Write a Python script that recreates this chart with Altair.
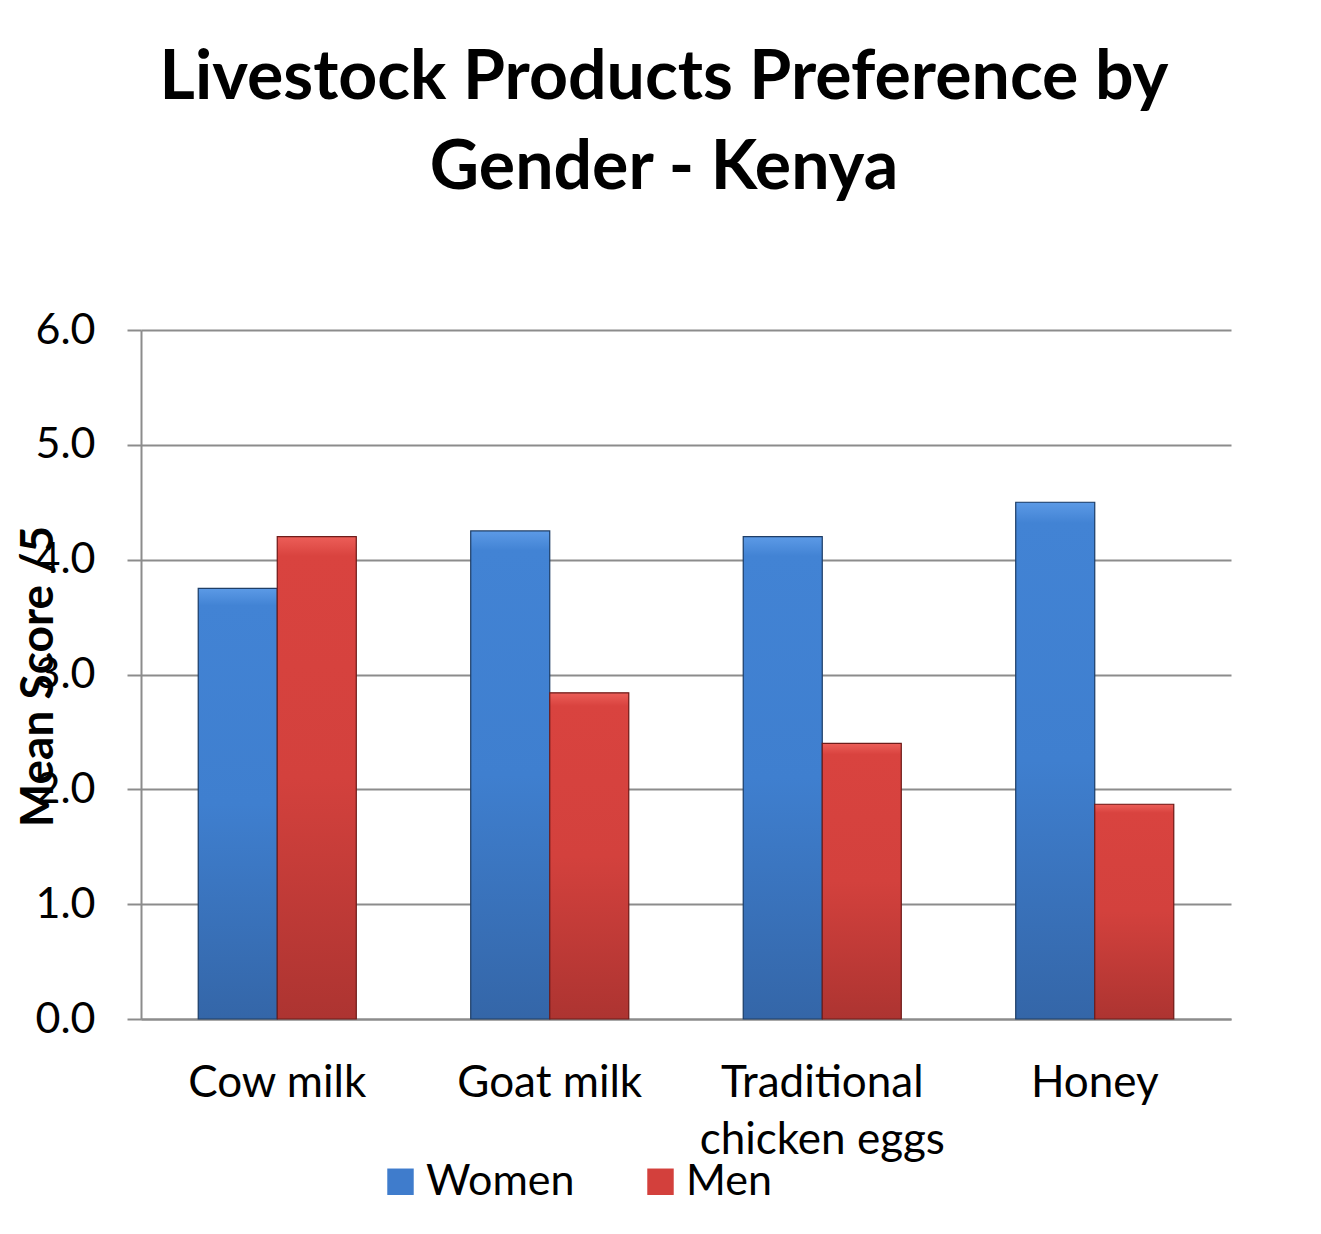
import altair as alt
import pandas as pd

categories = ["Cow milk", "Goat milk", "Traditional chicken eggs", "Honey"]
women = [3.75, 4.25, 4.2, 4.5]
men = [4.2, 2.84, 2.4, 1.87]
series = ["Women", "Men"]
y_ticks = [0, 1, 2, 3, 4, 5, 6]

rows = []
for c, w, m in zip(categories, women, men):
    rows.append({"category": c, "series": "Women", "value": w})
    rows.append({"category": c, "series": "Men", "value": m})
df = pd.DataFrame(rows)

FONT = "Lato"
GRID = "#8c8c8c"

x_enc = alt.X(
    "category:N",
    sort=categories,
    scale=alt.Scale(paddingInner=0.42, paddingOuter=0.21),
    axis=alt.Axis(
        title=None,
        labelAngle=0,
        labelFont=FONT,
        labelFontSize=44,
        labelColor="black",
        labelPadding=42,
        labelLimit=0,
        labelLineHeight=57,
        labelBaseline="top",
        labelExpr="datum.label == 'Traditional chicken eggs' ? ['Traditional', 'chicken eggs'] : datum.label",
        ticks=False,
        domain=True,
        domainColor=GRID,
        domainWidth=2,
    ),
)
xoff = alt.XOffset("series:N", sort=series, scale=alt.Scale(paddingInner=0, paddingOuter=0))
y_enc = alt.Y(
    "value:Q",
    scale=alt.Scale(domain=[0, 6], nice=False),
    axis=alt.Axis(
        title="Mean Score /5",
        titleFont=FONT,
        titleFontSize=46,
        titleFontWeight="bold",
        titleColor="black",
        titleAngle=-90,
        titleX=-89,
        titleY=346,
        titleAlign="center",
        titleBaseline="alphabetic",
        values=y_ticks,
        format=".1f",
        labelFont=FONT,
        labelFontSize=43,
        labelColor="black",
        labelPadding=32,
        tickSize=14,
        tickColor=GRID,
        tickWidth=2,
        grid=True,
        gridColor=GRID,
        gridWidth=2,
        domainColor=GRID,
        domainWidth=2,
    ),
)

base = alt.Chart(df).mark_bar().encode(
    x=x_enc,
    xOffset=xoff,
    y=y_enc,
    color=alt.Color(
        "series:N",
        sort=series,
        scale=alt.Scale(domain=series, range=["#3f7ccc", "#d3403c"]),
        legend=alt.Legend(
            title=None,
            orient="none",
            direction="horizontal",
            legendX=238,
            legendY=830,
            symbolType="square",
            symbolSize=700,
            symbolStrokeWidth=0,
            labelFont=FONT,
            labelFontSize=43,
            labelColor="black",
            labelOffset=4,
            columnPadding=64,
            padding=0,
        ),
    ),
)

blue_grad = alt.Gradient(
    gradient="linear", x1=0, x2=0, y1=0, y2=1,
    stops=[
        alt.GradientStop(color="#5c9ae6", offset=0),
        alt.GradientStop(color="#4283d4", offset=0.04),
        alt.GradientStop(color="#3f7fcf", offset=0.5),
        alt.GradientStop(color="#3466a8", offset=1),
    ],
)
red_grad = alt.Gradient(
    gradient="linear", x1=0, x2=0, y1=0, y2=1,
    stops=[
        alt.GradientStop(color="#ec5e58", offset=0),
        alt.GradientStop(color="#d9433f", offset=0.04),
        alt.GradientStop(color="#d3413d", offset=0.5),
        alt.GradientStop(color="#ad3431", offset=1),
    ],
)

women_layer = alt.Chart(df).transform_filter(alt.datum.series == "Women").mark_bar(
    fill=blue_grad, stroke="#1f3e66", strokeWidth=1.2
).encode(x=x_enc, xOffset=xoff, y=y_enc)
men_layer = alt.Chart(df).transform_filter(alt.datum.series == "Men").mark_bar(
    fill=red_grad, stroke="#6e1c1a", strokeWidth=1.2
).encode(x=x_enc, xOffset=xoff, y=y_enc)

chart = alt.layer(base, women_layer, men_layer).properties(
    width=1090,
    height=689,
    autosize=alt.AutoSizeParams(type="none"),
    padding={"left": 141, "top": 330, "right": 90, "bottom": 215},
    background="white",
    title=alt.Title(
        text=["Livestock Products Preference by", "Gender - Kenya"],
        font=FONT,
        fontSize=68,
        fontWeight="bold",
        color="black",
        lineHeight=90,
        anchor="middle",
        dx=-22,
        offset=106,
    ),
).configure_view(stroke=None)

chart.save("out.html", embed_options={"renderer": "svg", "actions": False})
